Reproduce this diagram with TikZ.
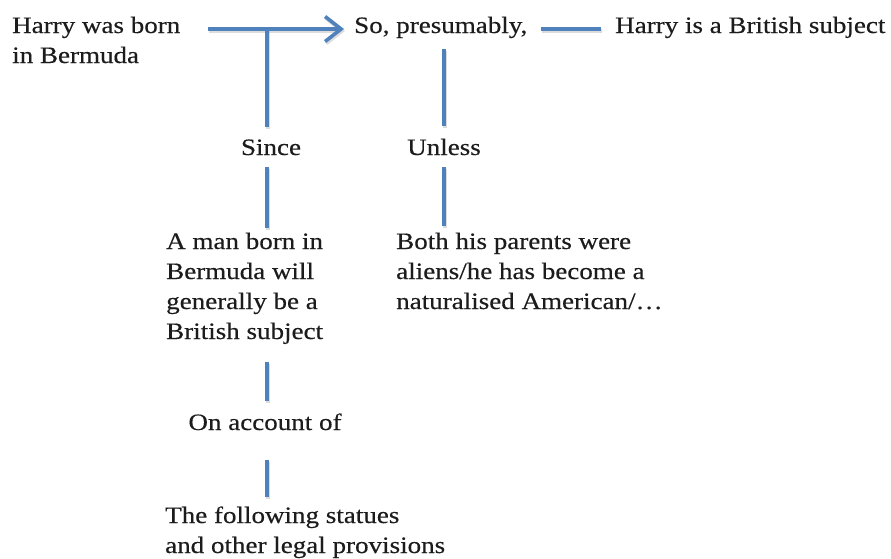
\documentclass[tikz,border=0pt]{standalone}
\usepackage{fontspec}
\setmainfont{Liberation Serif}[FakeStretch=1.15,FakeBold=0.4]
\usetikzlibrary{arrows.meta}
\definecolor{linkblue}{RGB}{79,129,189}
\definecolor{inkgray}{RGB}{28,28,28}
\begin{document}
\begin{tikzpicture}[x=1pt,y=-1pt,
  txt/.style={inner sep=0pt, align=left, anchor=base west, text=inkgray,
    font=\fontsize{23.5}{30}\selectfont},
  conn/.style={draw=linkblue, line width=3.6pt,
    preaction={draw=black!45, opacity=.3, line width=3.6pt,
      transform canvas={shift={(1,2)}}}},
  arrowtip/.style={-{Straight Barb[length=16pt,width=25pt,line join=miter]}},
]
\useasboundingbox (0,0) rectangle (891,558);

% statements and link words (multi-line blocks sit on their last baseline)
\node[txt] (born) at (12,63) {Harry was born\\in Bermuda};
\node[txt] (so) at (354,33) {So, presumably,};
\node[txt] (subj) at (615,33) {Harry is a British subject};
\node[txt, anchor=base] (since) at (271,155) {Since};
\node[txt, anchor=base] (unless) at (444,155) {Unless};
\node[txt] (man) at (166,339) {A man born in\\Bermuda will\\generally be a\\British subject};
\node[txt] (both) at (396,309) {Both his parents were\\aliens/he has become a\\naturalised American/…};
\node[txt, anchor=base] (acct) at (265,430) {On account of};
\node[txt] (stat) at (165,553) {The following statues\\and other legal provisions};

% junction on the main arrow where the warrant hangs
\coordinate (j) at (267,29);

% main line: data -> qualifier -> claim
\draw[conn, arrowtip, shorten <=27pt, shorten >=10pt] (born.east |- j) -- (so.west |- j);
\draw[conn, shorten <=13pt, shorten >=14pt] (so.east |- j) -- (subj.west |- j);

% warrant and backing
\draw[conn, shorten >=12.5pt] (j) -- (j |- since.north);
\draw[conn, shorten <=12pt, shorten >=5pt] (j |- since.south) -- (j |- man.north);
\draw[conn, shorten <=18pt, shorten >=12.5pt] (j |- man.south) -- (j |- acct.north);
\draw[conn, shorten <=30pt, shorten >=9pt] (j |- acct.south) -- (j |- stat.north);

% rebuttal
\draw[conn, shorten <=11pt, shorten >=12.5pt] (unless.north |- so.south) -- (unless.north);
\draw[conn, shorten <=12pt, shorten >=7pt] (unless.south) -- (unless.south |- both.north);
\end{tikzpicture}
\end{document}
